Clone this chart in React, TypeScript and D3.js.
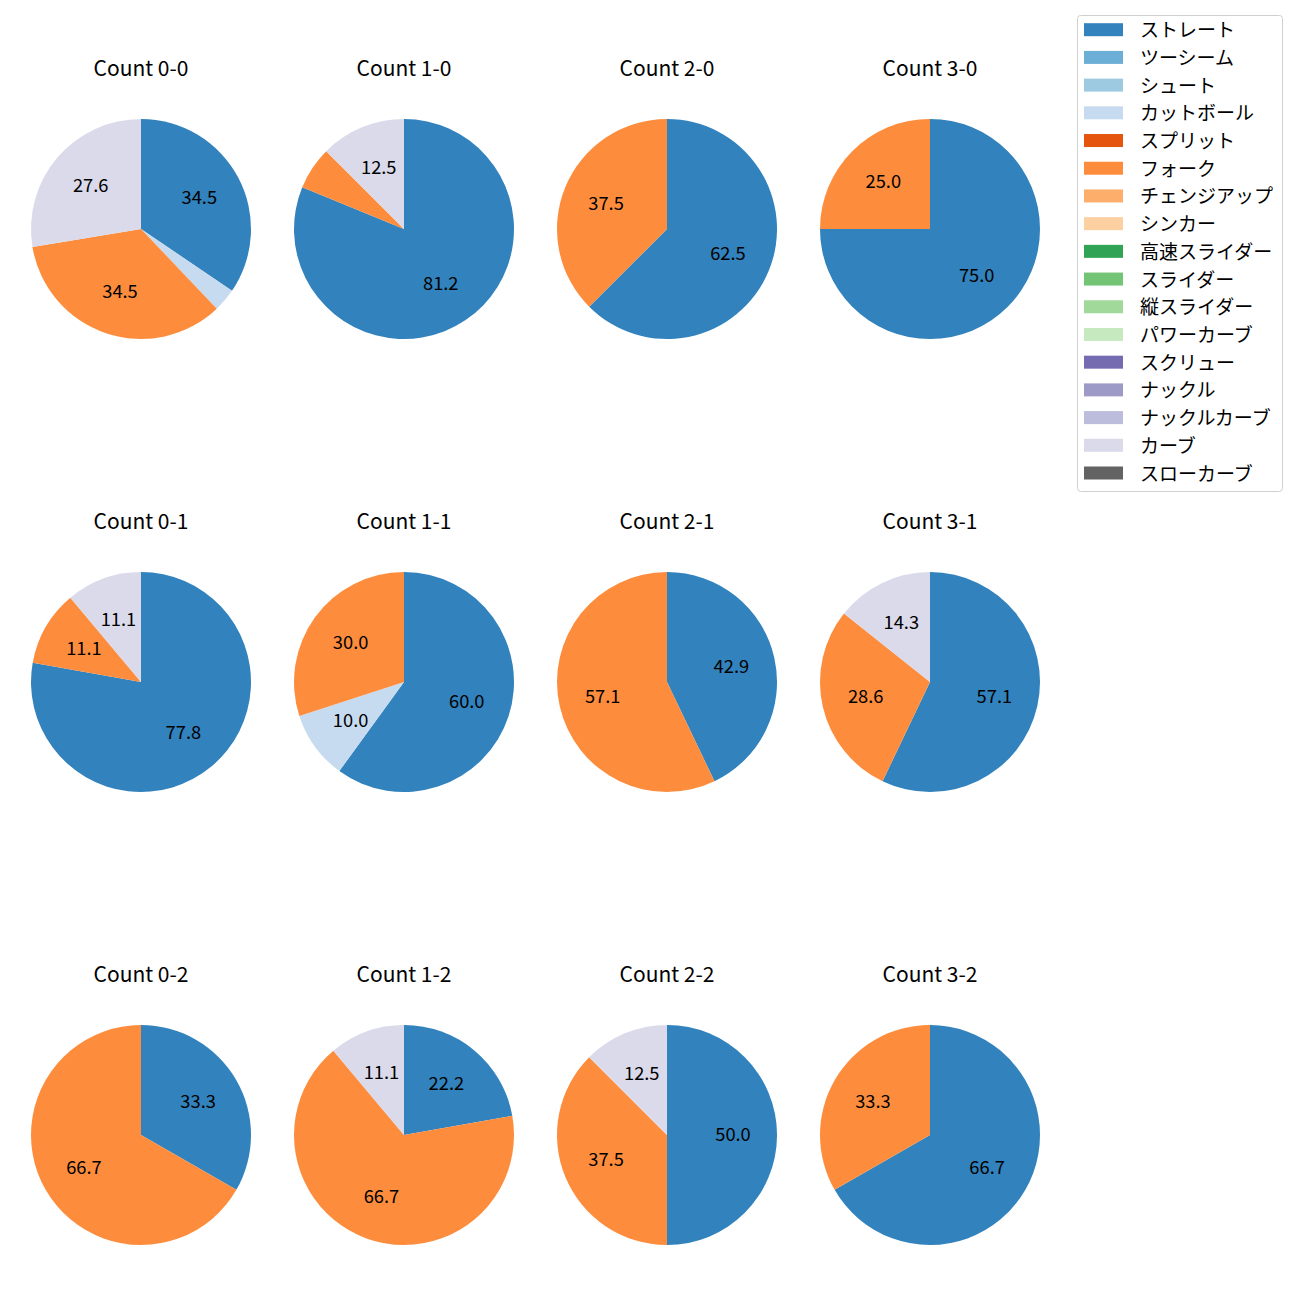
import React from "react";
import * as d3 from "d3";

const pitchTypes = [
  "ストレート", "ツーシーム", "シュート", "カットボール", "スプリット", "フォーク",
  "チェンジアップ", "シンカー", "高速スライダー", "スライダー", "縦スライダー",
  "パワーカーブ", "スクリュー", "ナックル", "ナックルカーブ", "カーブ", "スローカーブ",
];
const pitchColors = [
  "#3182bd", "#6baed6", "#9ecae1", "#c6dbef", "#e6550d", "#fd8d3c",
  "#fdae6b", "#fdd0a2", "#31a354", "#74c476", "#a1d99b", "#c7e9c0",
  "#756bb1", "#9e9ac8", "#bcbddc", "#dadaeb", "#636363",
];

const counts = ["0-0", "1-0", "2-0", "3-0", "0-1", "1-1", "2-1", "3-1", "0-2", "1-2", "2-2", "3-2"];
// percentages per count, per pitch type
const straight = [34.5, 81.2, 62.5, 75.0, 77.8, 60.0, 42.9, 57.1, 33.3, 22.2, 50.0, 66.7];
const cutter = [3.4, 0, 0, 0, 0, 10.0, 0, 0, 0, 0, 0, 0];
const fork = [34.5, 6.3, 37.5, 25.0, 11.1, 30.0, 57.1, 28.6, 66.7, 66.7, 37.5, 33.3];
const curve = [27.6, 12.5, 0, 0, 11.1, 0, 0, 14.3, 0, 11.1, 12.5, 0];

const seriesByType: Record<string, number[]> = {
  "ストレート": straight,
  "カットボール": cutter,
  "フォーク": fork,
  "カーブ": curve,
};

const FONT = "'Noto Sans CJK JP', 'Noto Sans', sans-serif";

export default function App() {
  const R = 110;
  const colX = d3.scalePoint<number>().domain([0, 1, 2, 3]).range([141, 930]);
  const rowY = d3.scalePoint<number>().domain([0, 1, 2]).range([229, 1135]);
  const arc = d3.arc<d3.PieArcDatum<any>>().innerRadius(0).outerRadius(R);
  const labelArc = d3.arc<d3.PieArcDatum<any>>().innerRadius(R * 0.6).outerRadius(R * 0.6);
  const pie = d3.pie<any>().sort(null).value((d: any) => d.v).startAngle(0).endAngle(2 * Math.PI);

  const legendY = d3.scaleLinear().domain([0, pitchTypes.length - 1]).range([29.7, 473]);

  return (
    <div style={{ position: "absolute", left: 0, top: 0 }}>
      <svg width={1300} height={1300} style={{ display: "block", background: "#fff" }} fontFamily={FONT}>
        {counts.map((c, i) => {
          const col = i % 4;
          const row = Math.floor(i / 4);
          const cx = colX(col)!;
          const cy = rowY(row)!;
          const data = pitchTypes
            .map((p, k) => ({ p, k, v: seriesByType[p] ? seriesByType[p][i] : 0 }))
            .filter((d) => d.v > 0);
          const total = d3.sum(data, (d) => d.v);
          const arcs = pie(data);
          return (
            <g key={c} transform={`translate(${cx},${cy})`}>
              <text x={0} y={-162} textAnchor="middle" dominantBaseline="central" fontSize={21} fill="#000">
                {`Count ${c}`}
              </text>
              {arcs.map((a) => (
                <path key={a.data.p} d={arc(a) || ""} fill={pitchColors[a.data.k]} />
              ))}
              {arcs.map((a) => {
                const pct = (a.data.v / total) * 100;
                if (pct < 8) return null;
                const [lx, ly] = labelArc.centroid(a);
                return (
                  <text key={a.data.p + "l"} x={lx} y={ly - 2} textAnchor="middle" dominantBaseline="central" fontSize={18.3} fill="#000">
                    {pct.toFixed(1)}
                  </text>
                );
              })}
            </g>
          );
        })}
        <g>
          <rect x={1077.5} y={15.5} width={205} height={476} rx={3} fill="#fff" stroke="#d0d0d0" strokeWidth={1} />
          {pitchTypes.map((p, k) => {
            const y = legendY(k);
            return (
              <g key={p}>
                <rect x={1084} y={y - 6.5} width={39} height={13} fill={pitchColors[k]} />
                <text x={1140} y={y - 1} dominantBaseline="central" fontSize={19} fill="#000">
                  {p}
                </text>
              </g>
            );
          })}
        </g>
      </svg>
    </div>
  );
}
